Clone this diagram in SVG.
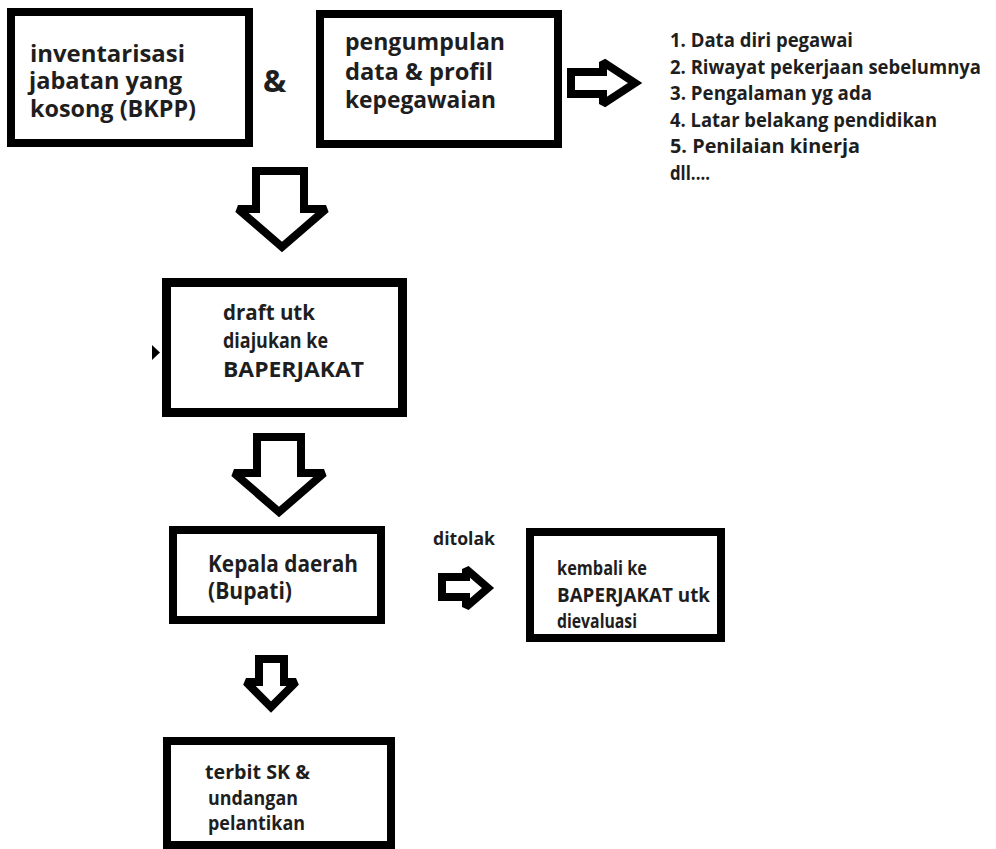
<svg xmlns="http://www.w3.org/2000/svg" width="996" height="849" viewBox="0 0 996 849">
<style>
.box{fill:#fff;stroke:#000;stroke-width:8}
.t{font-family:"Open Sans","Noto Sans","Liberation Sans",sans-serif;font-weight:700;fill:#1e1e1e}
.arr{fill:#fff;stroke:#000;stroke-width:8;stroke-linejoin:miter;stroke-miterlimit:2}
</style>
<rect width="996" height="849" fill="#fff"/>
<g id="connectors">
<path class="arr" d="M256,171 H304 V209 H326 L282,247 L238,209 H256 Z"/>
<path class="arr" d="M257,437 H301 V473 H324 L279,512 L234,473 H257 Z"/>
<path class="arr" d="M259,659 H284 V682 H296 L271,707 L246,682 H259 Z"/>
<path class="arr" d="M571,72 H603 V62 L635,83 L603,104 V94 H571 Z"/>
<path class="arr" d="M442,577 H466 V569 L488,588 L466,607 V597 H442 Z"/>
<polygon points="152,345 160,352.5 152,360" fill="#000"/>
<text class="t" x="433" y="545" font-size="17" textLength="62" lengthAdjust="spacingAndGlyphs">ditolak</text>
</g>
<g id="inventarisasi">
<rect class="box" x="11" y="12" width="238" height="131"/>
<text class="t" x="30" y="62" font-size="24" textLength="155" lengthAdjust="spacingAndGlyphs">inventarisasi</text>
<text class="t" x="29" y="89" font-size="24" textLength="153" lengthAdjust="spacingAndGlyphs">jabatan yang</text>
<text class="t" x="30" y="117" font-size="24" textLength="166" lengthAdjust="spacingAndGlyphs">kosong (BKPP)</text>
</g>
<g id="ampersand">
<text class="t" x="263" y="92" font-size="31">&amp;</text>
</g>
<g id="pengumpulan">
<rect class="box" x="320" y="14" width="238" height="130"/>
<text class="t" x="345" y="50" font-size="24" textLength="160" lengthAdjust="spacingAndGlyphs">pengumpulan</text>
<text class="t" x="345" y="80" font-size="24" textLength="148" lengthAdjust="spacingAndGlyphs">data &amp; profil</text>
<text class="t" x="345" y="108" font-size="24" textLength="151" lengthAdjust="spacingAndGlyphs">kepegawaian</text>
</g>
<g id="daftar">
<text class="t" x="670" y="47" font-size="19" textLength="183" lengthAdjust="spacingAndGlyphs">1. Data diri pegawai</text>
<text class="t" x="670" y="73.5" font-size="19" textLength="311" lengthAdjust="spacingAndGlyphs">2. Riwayat pekerjaan sebelumnya</text>
<text class="t" x="670" y="100" font-size="19" textLength="202" lengthAdjust="spacingAndGlyphs">3. Pengalaman yg ada</text>
<text class="t" x="670" y="126.5" font-size="19" textLength="267" lengthAdjust="spacingAndGlyphs">4. Latar belakang pendidikan</text>
<text class="t" x="670" y="153" font-size="19" textLength="190" lengthAdjust="spacingAndGlyphs">5. Penilaian kinerja</text>
<text class="t" x="670" y="179.5" font-size="19" textLength="40" lengthAdjust="spacingAndGlyphs">dll....</text>
</g>
<g id="draft">
<rect class="box" x="166.5" y="282.5" width="236" height="130" style="stroke-width:9"/>
<text class="t" x="223" y="320" font-size="22" textLength="92" lengthAdjust="spacingAndGlyphs">draft utk</text>
<text class="t" x="223" y="348" font-size="22" textLength="105" lengthAdjust="spacingAndGlyphs">diajukan ke</text>
<text class="t" x="223" y="377" font-size="22" textLength="141" lengthAdjust="spacingAndGlyphs">BAPERJAKAT</text>
</g>
<g id="kepala-daerah">
<rect class="box" x="173" y="530" width="208" height="90"/>
<text class="t" x="208" y="572" font-size="24" textLength="150" lengthAdjust="spacingAndGlyphs">Kepala daerah</text>
<text class="t" x="208" y="599" font-size="24" textLength="84" lengthAdjust="spacingAndGlyphs">(Bupati)</text>
</g>
<g id="kembali">
<rect class="box" x="530" y="532" width="191" height="106"/>
<text class="t" x="557" y="575" font-size="20" textLength="90" lengthAdjust="spacingAndGlyphs">kembali ke</text>
<text class="t" x="557" y="602" font-size="20" textLength="153" lengthAdjust="spacingAndGlyphs">BAPERJAKAT utk</text>
<text class="t" x="557" y="628" font-size="20" textLength="80" lengthAdjust="spacingAndGlyphs">dievaluasi</text>
</g>
<g id="terbit-sk">
<rect class="box" x="167" y="741" width="224" height="104"/>
<text class="t" x="205" y="779" font-size="20" textLength="105" lengthAdjust="spacingAndGlyphs">terbit SK &amp;</text>
<text class="t" x="208" y="805" font-size="20" textLength="90" lengthAdjust="spacingAndGlyphs">undangan</text>
<text class="t" x="208" y="830" font-size="20" textLength="97" lengthAdjust="spacingAndGlyphs">pelantikan</text>
</g>
</svg>
